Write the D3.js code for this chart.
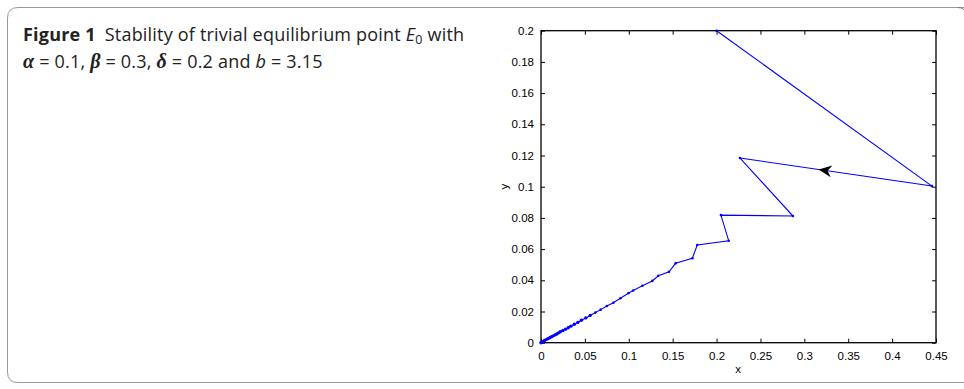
<!DOCTYPE html>
<html>
<head>
<meta charset="utf-8">
<script src="https://cdn.jsdelivr.net/npm/d3@7"></script>
<style>
  body { margin: 0; background: #fff; }
  svg { display: block; }
</style>
</head>
<body>
<div id="wrapper"></div>
<script>
const X_TICKS = [0, 0.05, 0.1, 0.15, 0.2, 0.25, 0.3, 0.35, 0.4, 0.45];
const X_TICK_LABELS = ["0", "0.05", "0.1", "0.15", "0.2", "0.25", "0.3", "0.35", "0.4", "0.45"];
const Y_TICKS = [0, 0.02, 0.04, 0.06, 0.08, 0.1, 0.12, 0.14, 0.16, 0.18, 0.2];
const Y_TICK_LABELS = ["0", "0.02", "0.04", "0.06", "0.08", "0.1", "0.12", "0.14", "0.16", "0.18", "0.2"];

// trajectory, from the start point down to the origin
const trajX = [0.2, 0.4454, 0.2267, 0.287, 0.205, 0.2138, 0.178, 0.1724, 0.1534, 0.1458,
    0.1337, 0.1268, 0.1155, 0.105, 0.0995, 0.0905, 0.0824, 0.075, 0.068, 0.062, 0.056,
    0.051, 0.046, 0.042, 0.038, 0.034, 0.031, 0.028, 0.025, 0.022, 0.02, 0.018, 0.016,
    0.014, 0.012, 0.01, 0.008, 0.006, 0.004, 0.002, 0.001, 0];
const trajY = [0.2, 0.1004, 0.1184, 0.0812, 0.0818, 0.0654, 0.0626, 0.0541, 0.0509, 0.0455,
    0.0429, 0.0396, 0.0365, 0.0335, 0.0317, 0.0285, 0.0256, 0.0235, 0.0212, 0.0193, 0.0175,
    0.0159, 0.0144, 0.013, 0.0118, 0.0106, 0.0096, 0.0087, 0.0078, 0.007, 0.0063, 0.0056,
    0.005, 0.0044, 0.0038, 0.0032, 0.0026, 0.002, 0.0014, 0.0007, 0.0004, 0];

// arrow on the second segment, as a fraction along it
const ARROW_SEGMENT = 1;
const ARROW_T = 0.59;

const LINE_COLOR = "#0000ff";
const TICK_FONT = "11.5px 'Liberation Sans', Arial, sans-serif";

const dimensions = {
    width: 964,
    height: 389,
    margin: { top: 30.7, right: 28, bottom: 46.3, left: 541 },
};
dimensions.boundedWidth = dimensions.width - dimensions.margin.left - dimensions.margin.right;
dimensions.boundedHeight = dimensions.height - dimensions.margin.top - dimensions.margin.bottom;

const svg = d3.select("#wrapper").append("svg")
    .attr("width", dimensions.width)
    .attr("height", dimensions.height);

// caption frame
svg.append("path")
    .attr("d", "M964,7.5 L18,7.5 Q7.5,7.5 7.5,18 L7.5,372 Q7.5,382.5 18,382.5 L964,382.5")
    .attr("fill", "none")
    .attr("stroke", "#9a9a9a")
    .attr("stroke-width", 1);
svg.append("path")
    .attr("d", "M958,7.5 Q963,7.5 964,10")
    .attr("fill", "none").attr("stroke", "#777");

const caption = svg.append("text")
    .attr("font-family", "'Open Sans', sans-serif")
    .attr("font-size", 18)
    .attr("letter-spacing", 0.2)
    .attr("fill", "#222");
const line1 = caption.append("tspan").attr("x", 23).attr("y", 41);
line1.append("tspan").attr("font-weight", "bold").text("Figure 1");
line1.append("tspan").attr("dx", 9).text("Stability of trivial equilibrium point ");
line1.append("tspan").attr("font-style", "italic").text("E");
line1.append("tspan").attr("font-size", 12.5).attr("dy", 3).text("0");
line1.append("tspan").attr("dy", -3).text(" with");

const line2 = caption.append("tspan").attr("x", 23).attr("y", 68);
const mathSym = (t) => line2.append("tspan")
    .attr("font-family", "'Liberation Serif', serif")
    .attr("font-size", 20)
    .attr("font-style", "italic").attr("font-weight", "bold").text(t);
mathSym("α");
line2.append("tspan").text(" = 0.1, ");
mathSym("β");
line2.append("tspan").text(" = 0.3, ");
mathSym("δ");
line2.append("tspan").text(" = 0.2 and ");
line2.append("tspan").attr("font-style", "italic").text("b");
line2.append("tspan").text(" = 3.15");

const bounds = svg.append("g")
    .attr("transform", `translate(${dimensions.margin.left},${dimensions.margin.top})`);

const xScale = d3.scaleLinear().domain([0, 0.45]).range([0, dimensions.boundedWidth]);
const yScale = d3.scaleLinear().domain([0, 0.2]).range([dimensions.boundedHeight, 0]);

const styleAxis = (g) => {
    g.select(".domain").remove();
    g.selectAll("line").attr("stroke", "#000");
    g.selectAll("text").style("font", TICK_FONT).attr("fill", "#000");
};

bounds.append("g")
    .attr("transform", `translate(0,${dimensions.boundedHeight})`)
    .call(d3.axisBottom(xScale).tickValues(X_TICKS)
        .tickFormat((d, i) => X_TICK_LABELS[i]).tickSize(-4).tickPadding(9))
    .call(styleAxis);
bounds.append("g")
    .call(d3.axisTop(xScale).tickValues(X_TICKS).tickFormat("").tickSize(-4))
    .call(styleAxis);
bounds.append("g")
    .call(d3.axisLeft(yScale).tickValues(Y_TICKS)
        .tickFormat((d, i) => Y_TICK_LABELS[i]).tickSize(-4).tickPadding(7))
    .call(styleAxis);
bounds.append("g")
    .attr("transform", `translate(${dimensions.boundedWidth},0)`)
    .call(d3.axisRight(yScale).tickValues(Y_TICKS).tickFormat("").tickSize(-4))
    .call(styleAxis);

bounds.append("rect")
    .attr("width", dimensions.boundedWidth)
    .attr("height", dimensions.boundedHeight)
    .attr("fill", "none")
    .attr("stroke", "#000")
    .attr("stroke-width", 1.3);

const points = trajX.map((x, i) => ({ x, y: trajY[i] }));

bounds.append("path")
    .datum(points)
    .attr("d", d3.line().x(d => xScale(d.x)).y(d => yScale(d.y)))
    .attr("fill", "none")
    .attr("stroke", LINE_COLOR)
    .attr("stroke-width", 1.1);

// near the origin the dots crowd together, so they are drawn a bit larger
bounds.selectAll(".pt")
    .data(points)
    .enter().append("circle")
    .attr("class", "pt")
    .attr("cx", d => xScale(d.x))
    .attr("cy", d => yScale(d.y))
    .attr("r", d => d.x < 0.06 ? 1.7 : 1.3)
    .attr("fill", LINE_COLOR);

// arrow head placed along a segment
const p0 = points[ARROW_SEGMENT], p1 = points[ARROW_SEGMENT + 1];
const ax = xScale(p0.x + (p1.x - p0.x) * ARROW_T);
const ay = yScale(p0.y + (p1.y - p0.y) * ARROW_T);
const angle = Math.atan2(yScale(p1.y) - yScale(p0.y), xScale(p1.x) - xScale(p0.x)) * 180 / Math.PI;
bounds.append("path")
    .attr("d", "M0,0 L-13,-6 L-9,0 L-13,6 Z")
    .attr("transform", `translate(${ax},${ay}) rotate(${angle})`)
    .attr("fill", "#000");

bounds.append("text")
    .attr("x", dimensions.boundedWidth / 2 - 0.5)
    .attr("y", dimensions.boundedHeight + 30)
    .attr("text-anchor", "middle")
    .style("font", TICK_FONT)
    .text("x");
bounds.append("text")
    .attr("transform", `translate(-33,${dimensions.boundedHeight / 2}) rotate(-90)`)
    .attr("text-anchor", "middle")
    .style("font", TICK_FONT)
    .text("y");
</script>
</body>
</html>
